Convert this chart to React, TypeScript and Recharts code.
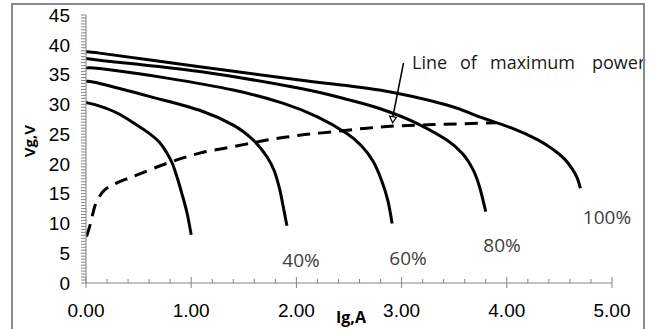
import React from "react";
import { LineChart, Line, XAxis, YAxis } from "recharts";

// Generator I-V characteristics at different irradiance levels (Ig in A, Vg in V)
const curve20 = [
  { i: 0, v: 30.3 }, { i: 0.13, v: 29.7 }, { i: 0.3, v: 28.5 }, { i: 0.45, v: 26.9 },
  { i: 0.61, v: 25.0 }, { i: 0.7, v: 23.6 }, { i: 0.77, v: 21.8 }, { i: 0.82, v: 20.1 },
  { i: 0.865, v: 17.8 }, { i: 0.91, v: 15.1 }, { i: 0.96, v: 11.8 }, { i: 1.0, v: 8.1 },
];
const curve40 = [
  { i: 0, v: 33.9 }, { i: 0.13, v: 33.5 }, { i: 0.61, v: 31.3 }, { i: 1.08, v: 29.0 },
  { i: 1.4, v: 26.5 }, { i: 1.59, v: 24.0 }, { i: 1.72, v: 21.2 }, { i: 1.79, v: 18.8 },
  { i: 1.84, v: 15.8 }, { i: 1.875, v: 12.8 }, { i: 1.91, v: 9.6 },
];
const curve60 = [
  { i: 0, v: 36.1 }, { i: 0.13, v: 36.0 }, { i: 0.77, v: 34.4 }, { i: 1.4, v: 32.4 },
  { i: 1.87, v: 30.2 }, { i: 2.2, v: 27.9 }, { i: 2.48, v: 25.1 }, { i: 2.62, v: 23.0 },
  { i: 2.73, v: 20.4 }, { i: 2.81, v: 17.2 }, { i: 2.87, v: 13.8 }, { i: 2.91, v: 10.0 },
];
const curve80 = [
  { i: 0, v: 37.7 }, { i: 0.13, v: 37.4 }, { i: 1.08, v: 35.5 }, { i: 2.03, v: 32.7 },
  { i: 2.51, v: 30.7 }, { i: 2.79, v: 29.3 }, { i: 3.11, v: 27.1 }, { i: 3.43, v: 24.0 },
  { i: 3.58, v: 21.7 }, { i: 3.68, v: 19.0 }, { i: 3.74, v: 16.2 }, { i: 3.8, v: 12.0 },
];
const curve100 = [
  { i: 0, v: 38.8 }, { i: 0.13, v: 38.6 }, { i: 1.08, v: 36.3 }, { i: 2.03, v: 34.1 },
  { i: 2.79, v: 32.4 }, { i: 3.43, v: 29.9 }, { i: 3.74, v: 27.9 }, { i: 4.05, v: 26.0 },
  { i: 4.3, v: 24.0 }, { i: 4.45, v: 22.3 }, { i: 4.55, v: 20.8 }, { i: 4.62, v: 19.2 },
  { i: 4.67, v: 17.6 }, { i: 4.7, v: 15.9 },
];
// Maximum power point locus
const maxPowerLine = [
  { i: 0.005, v: 7.8 }, { i: 0.04, v: 9.8 }, { i: 0.07, v: 12.0 }, { i: 0.1, v: 13.6 },
  { i: 0.17, v: 15.5 }, { i: 0.28, v: 16.7 }, { i: 0.45, v: 17.9 }, { i: 0.77, v: 20.1 },
  { i: 1.08, v: 21.8 }, { i: 1.4, v: 22.9 }, { i: 1.72, v: 24.0 }, { i: 2.03, v: 24.8 },
  { i: 2.35, v: 25.4 }, { i: 2.67, v: 26.0 }, { i: 2.98, v: 26.4 }, { i: 3.3, v: 26.6 },
  { i: 3.9, v: 26.9 },
];

const curveLabels = ["40%", "60%", "80%", "100%"];
const noteWords = ["Line", "of", "maximum", "power"];

const xMax = 5;
const yMax = 45;
const xMinorStep = 0.2;
const yMinorStep = 0.5;
const yMajorStep = 5;

const xTicks: number[] = [];
for (let k = 0; k <= Math.round(xMax / xMinorStep); k++) xTicks.push(+(k * xMinorStep).toFixed(2));
const yTicks: number[] = [];
for (let k = 0; k <= Math.round(yMax / yMinorStep); k++) yTicks.push(+(k * yMinorStep).toFixed(2));

const AXIS_COLOR = "#868686";
const TICK_FONT = "'Liberation Sans', Arial, sans-serif";
const NOTE_FONT = "'Open Sans', sans-serif";

// Smooth curve through every point (cubic Bezier segments with Catmull-Rom tangents)
const smoothCurve = (context: any) => {
  let pts: [number, number][] = [];
  return {
    areaStart() {},
    areaEnd() {},
    lineStart() {
      pts = [];
    },
    point(x: number, y: number) {
      pts.push([+x, +y]);
    },
    lineEnd() {
      const n = pts.length;
      if (!n) return;
      context.moveTo(pts[0][0], pts[0][1]);
      for (let k = 0; k < n - 1; k++) {
        const p0 = pts[Math.max(k - 1, 0)];
        const p1 = pts[k];
        const p2 = pts[k + 1];
        const p3 = pts[Math.min(k + 2, n - 1)];
        const c1x = p1[0] + (p2[0] - p0[0]) / 6;
        const c1y = p1[1] + (p2[1] - p0[1]) / 6;
        const c2x = p2[0] - (p3[0] - p1[0]) / 6;
        const c2y = p2[1] - (p3[1] - p1[1]) / 6;
        context.bezierCurveTo(c1x, c1y, c2x, c2y, p2[0], p2[1]);
      }
    },
  };
};

const XTick = (props: any) => {
  const { x, y, payload } = props;
  const v = payload.value as number;
  const major = Math.abs(v - Math.round(v)) < 1e-6;
  return (
    <g>
      {major ? (
        <line x1={x} x2={x} y1={y - 6} y2={y + 5} stroke={AXIS_COLOR} strokeWidth={1} />
      ) : (
        <line x1={x} x2={x} y1={y - 4} y2={y} stroke={AXIS_COLOR} strokeWidth={1} />
      )}
      {major && (
        <text x={x} y={y + 34} textAnchor="middle" fontFamily={TICK_FONT} fontSize={19} fill="#000">
          {v.toFixed(2)}
        </text>
      )}
    </g>
  );
};

const YTick = (props: any) => {
  const { x, y, payload } = props;
  const v = payload.value as number;
  const major = Math.abs(v / yMajorStep - Math.round(v / yMajorStep)) < 1e-6;
  return (
    <g>
      <line x1={x - 5} x2={x} y1={y} y2={y} stroke={AXIS_COLOR} strokeWidth={1} />
      {major && (
        <text x={x - 16} y={y + 6.8} textAnchor="end" fontFamily={TICK_FONT} fontSize={19} fill="#000">
          {v}
        </text>
      )}
    </g>
  );
};

const series = [curve20, curve40, curve60, curve80, curve100];

export default function App() {
  return (
    <div style={{ position: "absolute", left: 0, top: 0, width: 654, height: 329, background: "#fff" }}>
      <LineChart width={654} height={329} margin={{ top: 15, right: 42, bottom: 16, left: 26 }}>
        <XAxis
          type="number"
          dataKey="i"
          domain={[0, xMax]}
          ticks={xTicks}
          interval={0}
          tickSize={0}
          tickMargin={0}
          tickLine={false}
          tick={XTick}
          height={30}
          axisLine={{ stroke: AXIS_COLOR, strokeWidth: 1 }}
          allowDataOverflow
        />
        <YAxis
          type="number"
          dataKey="v"
          domain={[0, yMax]}
          ticks={yTicks}
          interval={0}
          tickSize={0}
          tickMargin={0}
          tickLine={false}
          tick={YTick}
          width={60}
          axisLine={{ stroke: AXIS_COLOR, strokeWidth: 1 }}
          allowDataOverflow
        />
        {series.map((d, idx) => (
          <Line
            key={idx}
            data={d}
            dataKey="v"
            type={smoothCurve as any}
            stroke="#000"
            strokeWidth={3}
            dot={false}
            activeDot={false}
            isAnimationActive={false}
          />
        ))}
        <Line
          data={maxPowerLine}
          dataKey="v"
          type={smoothCurve as any}
          stroke="#000"
          strokeWidth={3}
          strokeDasharray="13 8"
          dot={false}
          activeDot={false}
          isAnimationActive={false}
        />
      </LineChart>
      <svg
        width={654}
        height={329}
        style={{ position: "absolute", left: 0, top: 0, pointerEvents: "none" }}
      >
        {/* axis titles */}
        <text
          x={29}
          y={141}
          transform="rotate(-90 29 141)"
          textAnchor="middle"
          dominantBaseline="central"
          fontFamily={NOTE_FONT}
          fontWeight={700}
          fontSize={15}
          fill="#000"
        >
          Vg,V
        </text>
        <text x={351} y={323} textAnchor="middle" fontFamily={NOTE_FONT} fontWeight={700} fontSize={16} fill="#000">
          Ig,A
        </text>
        {/* irradiance labels */}
        <text x={301} y={267} textAnchor="middle" fontFamily={NOTE_FONT} fontSize={19} fill="#404040">{curveLabels[0]}</text>
        <text x={408} y={265} textAnchor="middle" fontFamily={NOTE_FONT} fontSize={19} fill="#404040">{curveLabels[1]}</text>
        <text x={502} y={252} textAnchor="middle" fontFamily={NOTE_FONT} fontSize={19} fill="#404040">{curveLabels[2]}</text>
        <text x={607} y={223.5} textAnchor="middle" fontFamily={NOTE_FONT} fontSize={19} fill="#404040">{curveLabels[3]}</text>
        {/* annotation with arrow */}
        <text y={68.5} fontFamily={NOTE_FONT} fontSize={18} fill="#1a1a1a">
          <tspan x={412}>{noteWords[0]}</tspan>
          <tspan x={460}>{noteWords[1]}</tspan>
          <tspan x={490}>{noteWords[2]}</tspan>
          <tspan x={592}>{noteWords[3]}</tspan>
        </text>
        <line x1={403.5} y1={63} x2={392.8} y2={117} stroke="#000" strokeWidth={1.5} />
        <polygon points="389.6,116 396.4,117.3 392.6,122.8" fill="#fff" stroke="#000" strokeWidth={1.2} />
        {/* chart frame */}
        <rect x={12} y={4} width={632} height={340} fill="none" stroke="#8a8a8a" strokeWidth={2} />
      </svg>
    </div>
  );
}
